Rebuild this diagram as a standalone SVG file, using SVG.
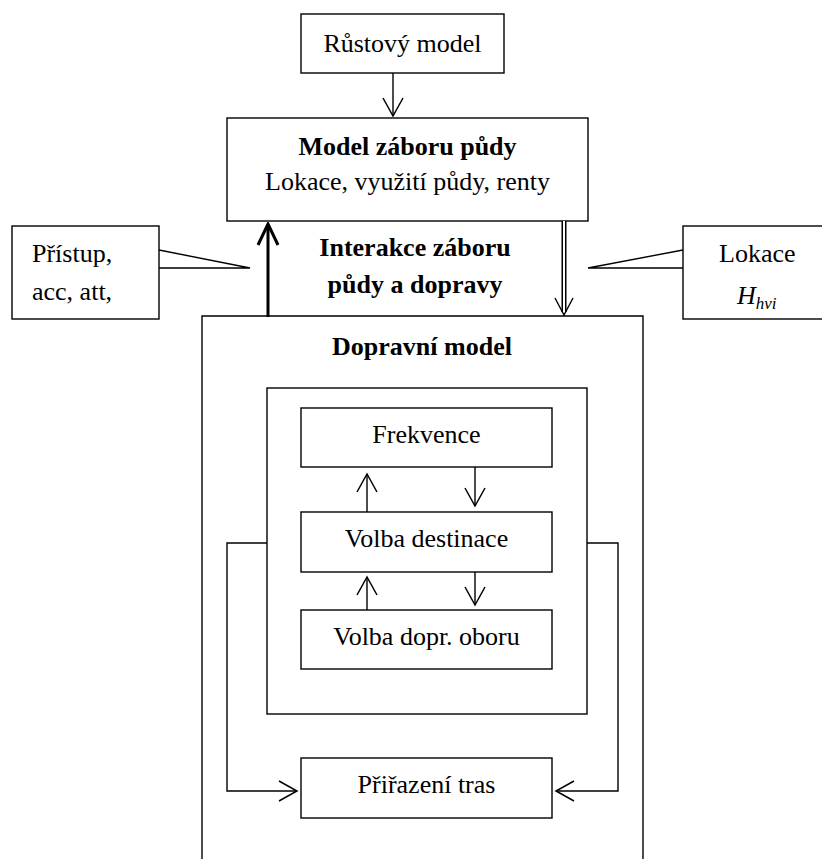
<svg xmlns="http://www.w3.org/2000/svg" width="822" height="859" viewBox="0 0 822 859">
<defs>
<style>
.box{fill:#fff;stroke:#000;stroke-width:1.4}
.ln{fill:none;stroke:#000;stroke-width:1.4}
.t{font-family:"Liberation Serif","Times New Roman",serif;font-size:26px;fill:#000}
.b{font-weight:bold}
.c{text-anchor:middle}
</style>
<marker id="ah" markerWidth="22" markerHeight="22" viewBox="-20 -11 22 22" refX="0" refY="0" orient="auto" markerUnits="userSpaceOnUse">
<path d="M-18,-10 L0,0 L-18,10" fill="none" stroke="#000" stroke-width="1.5"/>
</marker>
<marker id="ahb" markerWidth="26" markerHeight="26" viewBox="-24 -13 26 26" refX="0" refY="0" orient="auto" markerUnits="userSpaceOnUse">
<path d="M-21,-10 L0,0 L-21,10" fill="none" stroke="#000" stroke-width="3"/>
</marker>
</defs>

<g id="dopravni-model">
<path class="ln" d="M202,870 V316 H643 V870"/>
<text class="t b c" x="422" y="355">Dopravní model</text>
</g>

<g id="inner-box">
<rect class="box" x="267" y="388" width="320" height="326"/>
</g>

<g id="rustovy-model">
<rect class="box" x="301" y="14" width="203" height="59"/>
<text class="t c" x="402.5" y="52">Růstový model</text>
</g>

<g id="model-zaboru">
<rect class="box" x="227" y="118" width="361" height="103"/>
<text class="t b c" x="407.5" y="155">Model záboru půdy</text>
<text class="t c" x="407.5" y="190">Lokace, využití půdy, renty</text>
</g>

<g id="interakce">
<text class="t b c" x="415" y="256">Interakce záboru</text>
<text class="t b c" x="415" y="293">půdy a dopravy</text>
</g>

<g id="pristup">
<rect class="box" x="12" y="226" width="147" height="93"/>
<text class="t" x="32" y="262">Přístup,</text>
<text class="t" x="32" y="300">acc, att,</text>
</g>

<g id="lokace">
<rect class="box" x="683" y="226" width="150" height="93"/>
<text class="t" x="719" y="262">Lokace</text>
<text class="t" x="737" y="304" font-style="italic">H<tspan font-size="17" dy="5">hvi</tspan></text>
</g>

<g id="frekvence">
<rect class="box" x="301" y="408" width="251" height="59"/>
<text class="t c" x="426.5" y="443">Frekvence</text>
</g>

<g id="volba-destinace">
<rect class="box" x="301" y="512" width="251" height="60"/>
<text class="t c" x="426.5" y="547">Volba destinace</text>
</g>

<g id="volba-dopr-oboru">
<rect class="box" x="301" y="610" width="251" height="59"/>
<text class="t c" x="426.5" y="645">Volba dopr. oboru</text>
</g>

<g id="prirazeni-tras">
<rect class="box" x="301" y="758" width="251" height="60"/>
<text class="t c" x="426.5" y="793">Přiřazení tras</text>
</g>

<g id="connectors">
<line class="ln" x1="393" y1="73" x2="393" y2="116" marker-end="url(#ah)"/>
<line x1="268" y1="317" x2="268" y2="224" stroke="#000" stroke-width="3" marker-end="url(#ahb)"/>
<line x1="564" y1="221" x2="564" y2="312" stroke="#000" stroke-width="5"/>
<line x1="564" y1="221" x2="564" y2="312" stroke="#fff" stroke-width="2"/>
<path class="ln" d="M555,298 L564,315 L573,298"/>
<path class="ln" d="M159,250 L250,268 L159,268"/>
<path class="ln" d="M683,250 L588,268 L683,268"/>
<line class="ln" x1="367" y1="512" x2="367" y2="474" marker-end="url(#ah)"/>
<line class="ln" x1="475" y1="467" x2="475" y2="506" marker-end="url(#ah)"/>
<line class="ln" x1="367" y1="610" x2="367" y2="577" marker-end="url(#ah)"/>
<line class="ln" x1="475" y1="572" x2="475" y2="605" marker-end="url(#ah)"/>
<path class="ln" d="M267,543 H227 V791 H297" marker-end="url(#ah)"/>
<path class="ln" d="M587,543 H618 V791 H556" marker-end="url(#ah)"/>
</g>
</svg>
